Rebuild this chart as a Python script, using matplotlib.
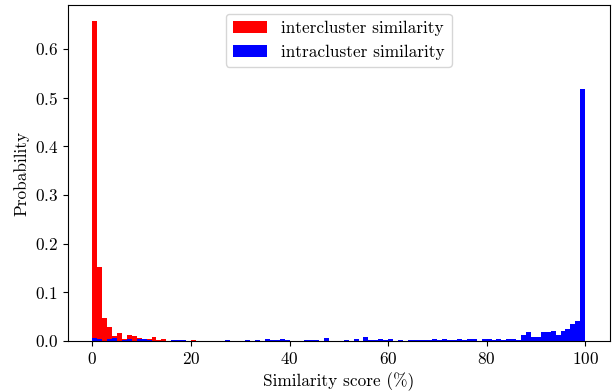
import numpy as np
import matplotlib
matplotlib.use("Agg")
import matplotlib.pyplot as plt

plt.rcParams['font.family'] = 'serif'
plt.rcParams['font.serif'] = ['cmr10']
plt.rcParams['mathtext.fontset'] = 'cm'
plt.rcParams['axes.formatter.use_mathtext'] = True
plt.rcParams['font.size'] = 12.4

# similarity score bins of 1 %
edges = np.arange(0, 101, 1)

# intercluster similarity: bin index -> probability
inter_bins = [0, 1, 2, 3, 4, 5, 6, 7, 8, 9, 10, 11, 12, 13, 14, 16, 18, 20]
inter_prob = [0.657, 0.152, 0.047, 0.029, 0.010, 0.016, 0.004, 0.012, 0.010,
              0.006, 0.005, 0.003, 0.008, 0.001, 0.003, 0.002, 0.002, 0.002]

# intracluster similarity: bin index -> probability
intra_bins = [0, 1, 3, 4, 6, 7, 9, 10, 11, 16, 17, 18, 27, 31, 33, 35, 36, 37,
              38, 39, 43, 44, 45, 47, 51, 53, 55, 56, 57, 58, 59, 60, 62, 64,
              65, 66, 67, 68, 69, 70, 71, 72, 73, 74, 75, 76, 77, 79, 80, 81,
              82, 83, 84, 85, 86, 87, 88, 89, 90, 91, 92, 93, 94, 95, 96, 97,
              98, 99]
intra_prob = [0.007, 0.005, 0.005, 0.006, 0.001, 0.005, 0.004, 0.003, 0.002,
              0.002, 0.001, 0.002, 0.002, 0.002, 0.002, 0.004, 0.002, 0.002,
              0.004, 0.002, 0.002, 0.002, 0.002, 0.007, 0.002, 0.004, 0.008,
              0.002, 0.002, 0.004, 0.002, 0.003, 0.002, 0.002,
              0.002, 0.002, 0.002, 0.001, 0.003, 0.002, 0.005, 0.001, 0.001,
              0.003, 0.001, 0.003, 0.003, 0.005, 0.003, 0.001,
              0.003, 0.001, 0.003, 0.003, 0.002, 0.012, 0.018, 0.008, 0.008,
              0.018, 0.018, 0.020, 0.012, 0.020, 0.025, 0.035,
              0.041, 0.517]

fig = plt.figure(figsize=(6.16, 3.91), dpi=100)
ax = fig.add_subplot(111)
fig.subplots_adjust(left=0.110, right=0.990, top=0.987, bottom=0.128)

ax.hist(np.array(inter_bins) + 0.5, bins=edges, weights=inter_prob,
        color='red', label='intercluster similarity')
ax.hist(np.array(intra_bins) + 0.5, bins=edges, weights=intra_prob,
        color='blue', label='intracluster similarity')

ax.set_xlabel('Similarity score (%)')
ax.set_ylabel('Probability')
ax.legend(loc='upper center')

fig.savefig('out.png', dpi=100)
